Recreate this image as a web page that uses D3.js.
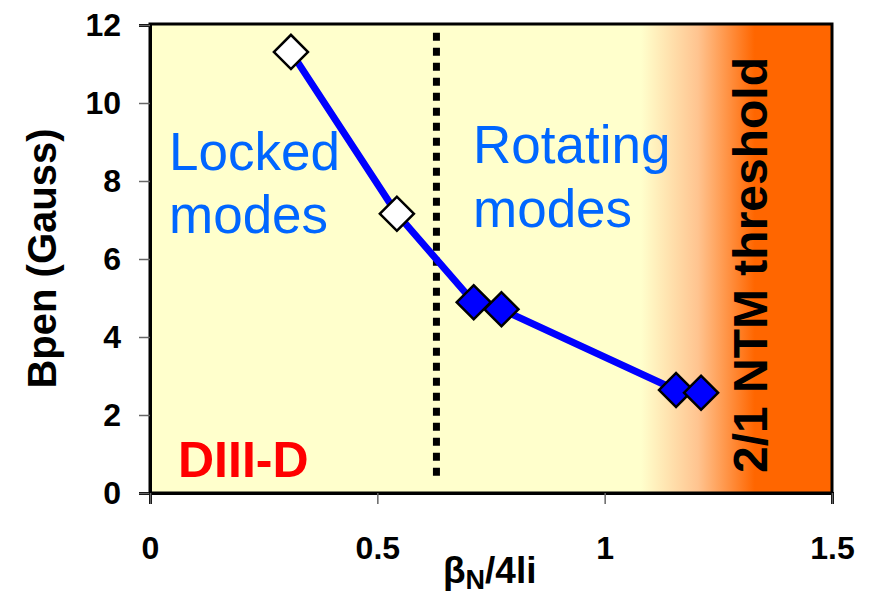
<!DOCTYPE html>
<html>
<head>
<meta charset="utf-8">
<script src="https://cdn.jsdelivr.net/npm/d3@7"></script>
<style>
  body { margin: 0; background: #fff; }
  text { font-family: "Liberation Sans", Arial, sans-serif; }
</style>
</head>
<body>
<svg id="chart" width="874" height="596"></svg>
<script>
// data
const lockedX = [0.31, 0.543];
const lockedY = [11.31, 7.16];
const rotatingX = [0.712, 0.773, 1.157, 1.212];
const rotatingY = [4.89, 4.71, 2.64, 2.57];
const xTicks = [0, 0.5, 1, 1.5];
const yTicks = [0, 2, 4, 6, 8, 10, 12];
const boundaryX = 0.63;
const thresholdStart = 1.08;
const thresholdFull = 1.33;

const svg = d3.select('#chart');
const plotL = 150, plotR = 832, plotT = 24, plotB = 493;

const x = d3.scaleLinear().domain([0, 1.5]).range([plotL, plotR]);
const y = d3.scaleLinear().domain([0, 12]).range([plotB, plotT + 1]);

// background + orange threshold band
const defs = svg.append('defs');
const grad = defs.append('linearGradient')
  .attr('id', 'band')
  .attr('gradientUnits', 'userSpaceOnUse')
  .attr('x1', x(thresholdStart)).attr('x2', x(thresholdFull))
  .attr('y1', 0).attr('y2', 0);
grad.append('stop').attr('offset', 0).attr('stop-color', '#FFFFCC');
grad.append('stop').attr('offset', 0.5).attr('stop-color', '#FFC490');
grad.append('stop').attr('offset', 1).attr('stop-color', '#FF6600');

svg.append('rect')
  .attr('x', plotL).attr('y', plotT)
  .attr('width', plotR - plotL).attr('height', plotB - plotT)
  .attr('fill', 'url(#band)');

// frame
svg.append('rect')
  .attr('x', plotL).attr('y', plotT)
  .attr('width', plotR - plotL).attr('height', plotB - plotT)
  .attr('fill', 'none').attr('stroke', '#000').attr('stroke-width', 3);

// axes
const yAxis = svg.append('g')
  .attr('transform', `translate(${plotL},0)`)
  .call(d3.axisLeft(y).tickValues(yTicks).tickSize(11).tickPadding(18).tickFormat(d3.format('d')));
const xAxis = svg.append('g')
  .attr('transform', `translate(0,${plotB})`)
  .call(d3.axisBottom(x).tickValues(xTicks).tickSize(11).tickPadding(32).tickFormat(d => d));

[yAxis, xAxis].forEach(g => {
  g.select('.domain').attr('stroke', '#000').attr('stroke-width', 3);
  g.selectAll('.tick line').attr('stroke', '#666').attr('stroke-width', 1.5);
  g.selectAll('.tick text')
    .attr('fill', '#000')
    .style('font-size', '32px')
    .style('font-weight', 'bold');
});

// locked / rotating boundary
svg.append('line')
  .attr('x1', x(boundaryX)).attr('x2', x(boundaryX))
  .attr('y1', y(11.8)).attr('y2', y(0.3))
  .attr('stroke', '#000').attr('stroke-width', 7)
  .attr('stroke-dasharray', '8,7');

// series line through all points
const pts = lockedX.map((d, i) => [d, lockedY[i]])
  .concat(rotatingX.map((d, i) => [d, rotatingY[i]]));
svg.append('path')
  .datum(pts)
  .attr('fill', 'none')
  .attr('stroke', '#0000FF')
  .attr('stroke-width', 7)
  .attr('stroke-linejoin', 'round')
  .attr('d', d3.line().x(d => x(d[0])).y(d => y(d[1])));

const diamond = d3.symbol().type(d3.symbolSquare).size(580);
function markers(xs, ys, fill) {
  svg.append('g').selectAll('path')
    .data(xs.map((d, i) => [d, ys[i]]))
    .enter()
    .append('path')
    .attr('d', diamond)
    .attr('transform', d => `translate(${x(d[0])},${y(d[1])}) rotate(45)`)
    .attr('fill', fill)
    .attr('stroke', '#000')
    .attr('stroke-width', 2.5);
}
markers(lockedX, lockedY, '#FFFFFF');
markers(rotatingX, rotatingY, '#0000FF');

// annotations
const blue = '#0066FF';
function label(txt, px, py, opts) {
  return svg.append('text')
    .attr('x', px).attr('y', py)
    .attr('fill', opts.color || '#000')
    .style('font-size', opts.size + 'px')
    .style('font-weight', opts.bold ? 'bold' : 'normal')
    .text(txt);
}
label('Locked', 169, 170, { color: blue, size: 53 });
label('modes', 169, 233, { color: blue, size: 53 });
label('Rotating', 473, 163, { color: blue, size: 53 });
label('modes', 473, 227, { color: blue, size: 53 });
label('DIII-D', 178, 477, { color: '#FF0000', size: 50, bold: true });

svg.append('text')
  .attr('transform', 'translate(767,265) rotate(-90)')
  .attr('text-anchor', 'middle')
  .style('font-size', '48px')
  .style('font-weight', 'bold')
  .text('2/1 NTM threshold');

svg.append('text')
  .attr('transform', `translate(56,${(plotT + plotB) / 2}) rotate(-90)`)
  .attr('text-anchor', 'middle')
  .style('font-size', '40px')
  .style('font-weight', 'bold')
  .text('Bpen (Gauss)');

const xl = svg.append('text')
  .attr('x', 443).attr('y', 583)
  .style('font-size', '37px')
  .style('font-weight', 'bold');
xl.append('tspan').text('β');
xl.append('tspan').attr('dy', 6).style('font-size', '27px').text('N');
xl.append('tspan').attr('dy', -6).text('/4li');
</script>
</body>
</html>
